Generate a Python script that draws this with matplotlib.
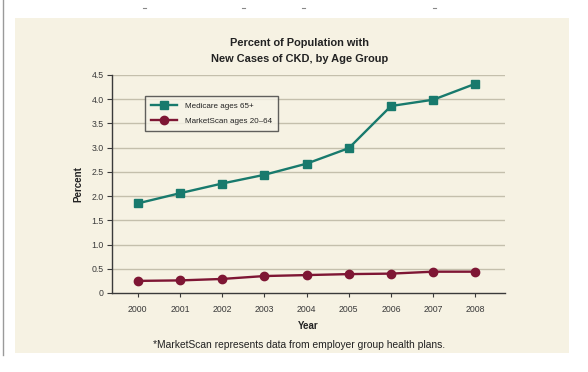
import matplotlib
matplotlib.use("Agg")
import matplotlib.pyplot as plt
from matplotlib.patches import Rectangle
from matplotlib.lines import Line2D

years = [2000, 2001, 2002, 2003, 2004, 2005, 2006, 2007, 2008]
medicare = [1.85, 2.06, 2.26, 2.44, 2.67, 2.99, 3.86, 3.99, 4.32]
marketscan = [0.25, 0.26, 0.29, 0.35, 0.37, 0.39, 0.40, 0.44, 0.44]
yticks = [0, 0.5, 1.0, 1.5, 2.0, 2.5, 3.0, 3.5, 4.0, 4.5]
ytick_labels = ["0", "0.5", "1.0", "1.5", "2.0", "2.5", "3.0", "3.5", "4.0", "4.5"]

FAM = ["Liberation Sans Narrow", "Liberation Sans", "DejaVu Sans"]
plt.rcParams['font.family'] = FAM

W, H = 588, 372
fig = plt.figure(figsize=(W / 100, H / 100), dpi=100)
fig.patch.set_facecolor("white")

def fx(px):
    return px / W

def fy(py):
    return 1 - py / H

# beige panel
fig.patches.append(Rectangle((fx(15), fy(353)), fx(569) - fx(15), fy(18) - fy(353),
                             transform=fig.transFigure, facecolor="#f6f2e3",
                             edgecolor="none", zorder=-5))
# left grey border line
fig.add_artist(Line2D([fx(3), fx(3)], [fy(0), fy(355)], transform=fig.transFigure,
                      color="#9a9a9a", lw=1.0, zorder=-4))
# tiny marks at top (scan artifacts)
for px in [144, 243, 303, 434]:
    fig.add_artist(Line2D([fx(px - 1.5), fx(px + 1.5)], [fy(8), fy(8)],
                          transform=fig.transFigure, color="#888888", lw=0.8, zorder=-4))

teal = "#187a6d"
maroon = "#7e1634"
dark = "#3a3a3a"

ax = fig.add_axes([fx(112), fy(293), fx(505) - fx(112), fy(75) - fy(293)])
ax.set_zorder(2)
ax.set_facecolor("none")
ax.set_xlim(1999.39, 2008.70)
ax.set_ylim(0, 4.5)

for y in yticks[1:]:
    ax.axhline(y, color="#c4bfac", lw=1.0, zorder=1)

ax.plot(years, medicare, color=teal, lw=1.7, marker="s", markersize=5.4,
        label="Medicare ages 65+", zorder=3)
ax.plot(years, marketscan, color=maroon, lw=1.7, marker="o", markersize=6,
        label="MarketScan ages 20\u201364", zorder=3)

ax.set_xticks(years)
ax.set_xticklabels([str(y) for y in years])
ax.set_yticks(yticks)
ax.set_yticklabels(ytick_labels)
ax.tick_params(axis="both", labelsize=6.3, colors=dark, length=3.5, width=0.8,
               direction="out", pad=2.5)
ax.tick_params(axis="x", pad=5.5, length=3)

for s in ["top", "right"]:
    ax.spines[s].set_visible(False)
for s in ["left", "bottom"]:
    ax.spines[s].set_color(dark)
    ax.spines[s].set_linewidth(1.0)

ax.set_xlabel("Year", fontsize=7, fontweight="bold", color="#222222", labelpad=5)
ax.set_ylabel("Percent", fontsize=7, fontweight="bold", color="#222222", labelpad=6)

leg = ax.legend(loc="upper left", bbox_to_anchor=((145 - 112) / 393, (293 - 96) / 218),
                borderaxespad=0, frameon=True, fancybox=False, fontsize=5.8,
                handlelength=3.2, handletextpad=1.0, borderpad=0.75, labelspacing=0.95)
frame = leg.get_frame()
frame.set_edgecolor(dark)
frame.set_linewidth(1.0)
frame.set_facecolor("#f7f4e8")
for t in leg.get_texts():
    t.set_color("#222222")

fig.text(fx(300), fy(51.5), "Percent of Population with\nNew Cases of CKD, by Age Group",
         ha="center", va="center", fontsize=7.9, fontweight="bold", color="#222222",
         linespacing=1.75)
fig.text(fx(299), fy(345), "*MarketScan represents data from employer group health plans.",
         ha="center", va="center", fontsize=7.4, color="#222222")

fig.savefig("out.png", dpi=100, facecolor="white")
